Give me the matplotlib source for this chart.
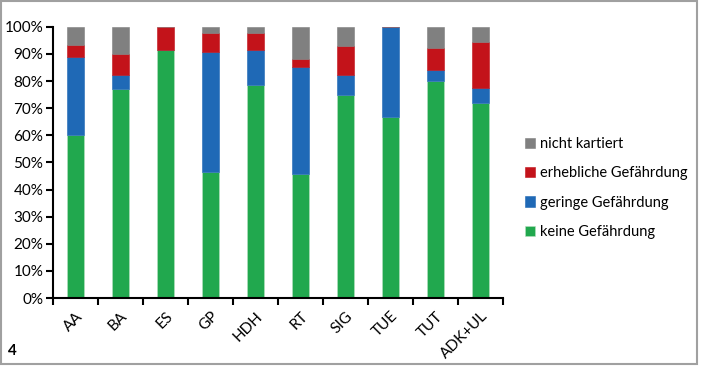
import numpy as np
import matplotlib.pyplot as plt
from matplotlib.patches import Rectangle

# Data (shares in %)
gebiete = ["AA", "BA", "ES", "GP", "HDH", "RT", "SIG", "TUE", "TUT", "ADK+UL"]
keine = [60.0, 77.0, 91.5, 46.5, 78.7, 45.6, 75.0, 66.7, 80.0, 72.1]
geringe = [29.0, 5.2, 0.0, 44.3, 12.8, 39.7, 7.1, 33.3, 4.0, 5.5]
erhebliche = [4.4, 7.7, 8.5, 7.0, 6.4, 2.8, 10.7, 0.0, 8.1, 16.9]
nicht_kartiert = [6.6, 10.1, 0.0, 2.2, 2.1, 11.9, 7.2, 0.0, 7.9, 5.5]

serien = [
    ("keine Gefährdung", keine, "#21a84e"),
    ("geringe Gefährdung", geringe, "#1f69b6"),
    ("erhebliche Gefährdung", erhebliche, "#c3131a"),
    ("nicht kartiert", nicht_kartiert, "#808080"),
]

plt.rcParams["font.family"] = ["Lato", "DejaVu Sans"]

fig = plt.figure(figsize=(7.04, 3.68), dpi=100)
ax = fig.add_axes([0.0753, 0.190, 0.639, 0.737])

x = np.arange(len(gebiete))
bottom = np.zeros(len(gebiete))
handles = []
for name, werte, farbe in serien:
    werte = np.array(werte)
    b = ax.bar(x, werte, 0.38, bottom=bottom, color=farbe, label=name,
               edgecolor="#b8e0c0" if farbe == "#21a84e" else farbe, linewidth=0.4)
    handles.append(b)
    bottom += werte

ax.set_xlim(-0.5, len(gebiete) - 0.5)
ax.set_ylim(0, 100)
ax.set_yticks(np.arange(0, 101, 10))
ax.set_yticklabels([f"{v}%" for v in range(0, 101, 10)], fontsize=11)
ax.set_xticks(x)
ax.set_xticklabels(gebiete, rotation=45, ha="right", rotation_mode="anchor", fontsize=11)
ax.set_xticks(np.arange(-0.5, len(gebiete), 1), minor=True)
ax.tick_params(axis="x", which="major", length=0, pad=8)
ax.tick_params(axis="x", which="minor", length=5, width=1.5, direction="out")
ax.tick_params(axis="y", length=5, width=1.5, direction="out", pad=2)

for s in ["top", "right"]:
    ax.spines[s].set_visible(False)
for s in ["left", "bottom"]:
    ax.spines[s].set_linewidth(1.5)

leg = ax.legend(handles=handles[::-1], loc="center left", bbox_to_anchor=(1.02, 0.406),
                frameon=False, fontsize=10.5, handlelength=0.7, handleheight=0.7,
                handletextpad=0.3, labelspacing=1.05)

fig.text(0.011, 0.035, "4", fontsize=11, fontweight="bold")

fig.patches.append(Rectangle((0.002, 0.012), 0.988, 0.986, transform=fig.transFigure,
                             fill=False, edgecolor="#a0a0a0", linewidth=1.5))

fig.savefig("out.png", dpi=100)
